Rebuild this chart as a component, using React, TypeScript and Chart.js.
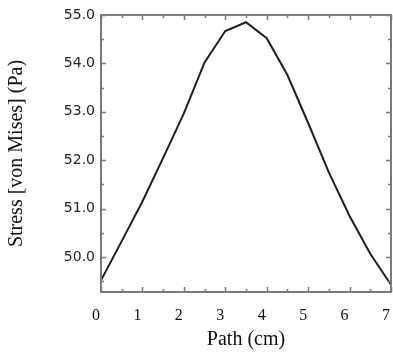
import React, { useEffect, useRef } from "react";
import { Chart, registerables } from "chart.js";

Chart.register(...registerables);

const pathCm = [0, 0.5, 1, 1.5, 2, 2.5, 3, 3.5, 4, 4.5, 5, 5.5, 6, 6.5, 7];
const stressPa = [49.52, 50.33, 51.15, 52.05, 52.97, 54.02, 54.67, 54.85, 54.52, 53.76, 52.77, 51.75, 50.85, 50.07, 49.43];
const xTickValues = [0, 1, 2, 3, 4, 5, 6, 7];
const yTickValues = [50, 51, 52, 53, 54, 55];
const xMinorValues = [0.5, 1.5, 2.5, 3.5, 4.5, 5.5, 6.5];
const yMinorValues = [49.5, 50.5, 51.5, 52.5, 53.5, 54.5];

const framePlugin = {
  id: "frameTicks",
  afterDatasetsDraw(chart: any) {
    const { ctx, chartArea, scales } = chart;
    const { left, right, top, bottom } = chartArea;
    const xs = scales.x;
    const ys = scales.y;
    ctx.save();
    ctx.strokeStyle = "#7a7a7a";
    ctx.lineWidth = 1.5;
    const major = 5;
    const minor = 3;
    ctx.beginPath();
    const tickX = (v: number, len: number) => {
      const px = Math.round(xs.getPixelForValue(v)) + 0.5;
      ctx.moveTo(px, bottom);
      ctx.lineTo(px, bottom - len);
      ctx.moveTo(px, top);
      ctx.lineTo(px, top + len);
    };
    const tickY = (v: number, len: number) => {
      const py = Math.round(ys.getPixelForValue(v)) + 0.5;
      ctx.moveTo(left, py);
      ctx.lineTo(left + len, py);
      ctx.moveTo(right, py);
      ctx.lineTo(right - len, py);
    };
    xTickValues.forEach((v) => tickX(v, major));
    xMinorValues.forEach((v) => tickX(v, minor));
    yTickValues.forEach((v) => tickY(v, major));
    yMinorValues.forEach((v) => tickY(v, minor));
    ctx.stroke();
    ctx.lineWidth = 2;
    ctx.strokeRect(left, top, right - left, bottom - top);
    ctx.restore();
  },
};

export default function App() {
  const ref = useRef<HTMLCanvasElement | null>(null);
  useEffect(() => {
    if (!ref.current) return;
    const chart = new Chart(ref.current, {
      type: "line",
      data: {
        datasets: [
          {
            data: pathCm.map((x, i) => ({ x, y: stressPa[i] })),
            borderColor: "#1e1e1e",
            borderWidth: 2,
            pointRadius: 0,
            tension: 0,
            fill: false,
          },
        ],
      },
      options: {
        animation: false,
        responsive: false,
        maintainAspectRatio: false,
        layout: { padding: { top: 15, right: 2, left: 0, bottom: 0 } },
        plugins: { legend: { display: false }, tooltip: { enabled: false } },
        scales: {
          x: {
            type: "linear",
            min: 0,
            max: 7,
            afterFit: (s: any) => {
              s.height = 64;
              s.paddingLeft = 0;
              s.paddingRight = 0;
            },
            afterBuildTicks: (s: any) => {
              s.ticks = xTickValues.map((v) => ({ value: v }));
            },
            grid: { display: false, drawTicks: false },
            border: { display: false },
            ticks: {
              padding: 14,
              labelOffset: -5,
              color: "#111",
              font: { family: "'Liberation Serif', 'Times New Roman', serif", size: 16 },
              maxRotation: 0,
              callback: (v: any) => String(v),
            },
            title: {
              display: true,
              text: "Path (cm)",
              color: "#111",
              font: { family: "'Liberation Serif', 'Times New Roman', serif", size: 20 },
              padding: { top: 0, bottom: 4 },
            },
          },
          y: {
            type: "linear",
            min: 49.28,
            max: 55,
            afterFit: (s: any) => {
              s.width = 101;
            },
            afterBuildTicks: (s: any) => {
              s.ticks = yTickValues.map((v) => ({ value: v }));
            },
            grid: { display: false, drawTicks: false },
            border: { display: false },
            ticks: {
              padding: 6,
              color: "#222",
              font: { family: "'DejaVu Sans', sans-serif", size: 14 },
              callback: (v: any) => Number(v).toFixed(1),
            },
            title: {
              display: true,
              text: "Stress [von Mises] (Pa)",
              color: "#111",
              font: { family: "'Liberation Serif', 'Times New Roman', serif", size: 20 },
              padding: { top: 5, bottom: 0 },
            },
          },
        },
      },
      plugins: [framePlugin],
    } as any);
    return () => chart.destroy();
  }, []);
  return (
    <div style={{ position: "absolute", left: 0, top: 0, width: 393, height: 356, background: "#fff" }}>
      <canvas ref={ref} width={393} height={356} style={{ display: "block" }} />
    </div>
  );
}
